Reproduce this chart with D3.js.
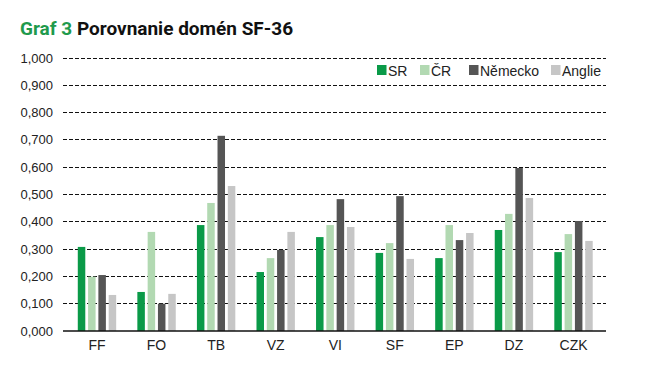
<!DOCTYPE html>
<html><head><meta charset="utf-8">
<script src="https://cdn.jsdelivr.net/npm/d3@7"></script>
<style>body{margin:0;background:#fff;} svg{display:block;}</style>
</head><body>
<svg id="c" width="647" height="366"></svg>
<script>
const categories = ["FF","FO","TB","VZ","VI","SF","EP","DZ","CZK"];
const seriesNames = ["SR","ČR","Německo","Anglie"];
const SR      = [0.308,0.143,0.388,0.216,0.344,0.286,0.267,0.370,0.289];
const CR      = [0.199,0.363,0.469,0.267,0.388,0.322,0.388,0.429,0.355];
const Nemecko = [0.205,0.100,0.715,0.297,0.483,0.494,0.333,0.597,0.403];
const Anglie  = [0.132,0.136,0.531,0.363,0.381,0.264,0.359,0.487,0.330];
const yTicks = [0,0.1,0.2,0.3,0.4,0.5,0.6,0.7,0.8,0.9,1.0];
const colors = ["#0a9a48","#b2d9b2","#555555","#c6c6c6"];

const series = [SR, CR, Nemecko, Anglie];
const svg = d3.select("#c");
const font = "'Liberation Sans', Arial, sans-serif";

// title
const t = svg.append("text").attr("x",20).attr("y",35)
  .style("font-family","Roboto, 'Liberation Sans', sans-serif").style("font-weight","bold").style("font-size","19px");
t.append("tspan").attr("fill","#1f9a4c").text("Graf 3 ");
t.append("tspan").attr("fill","#111").text("Porovnanie domén SF-36");

const x0 = d3.scaleBand().domain(categories).range([67.2,603.3]).paddingInner(0).paddingOuter(0);
const y = d3.scaleLinear().domain([0,1]).range([331,58]);

// gridlines
svg.append("g").selectAll("line").data(yTicks.filter(d=>d>0)).join("line")
  .attr("x1",63).attr("x2",606)
  .attr("y1",d=>y(d)).attr("y2",d=>y(d))
  .attr("stroke","#111").attr("stroke-width",1).attr("stroke-dasharray","3.5,2.5")
  .attr("shape-rendering","crispEdges");

// y axis labels
const fmt = d => d3.format(".3f")(d).replace(".",",");
svg.append("g").selectAll("text").data(yTicks).join("text")
  .attr("x",53).attr("y",d=>y(d)).attr("dy","0.35em").attr("text-anchor","end")
  .style("font-family",font).style("font-size","13px").attr("fill","#222")
  .text(fmt);

// bars
const step = 10.3, bw = 7.5;
categories.forEach((c,i)=>{
  const cx = x0(c) + x0.bandwidth()/2;
  series.forEach((s,j)=>{
    const left = cx - (step*3 + bw)/2 + j*step;
    svg.append("rect").attr("x",left).attr("width",bw)
      .attr("y",y(s[i])).attr("height",y(0)-y(s[i])).attr("fill",colors[j]);
  });
});

// baseline
svg.append("line").attr("x1",63).attr("x2",606).attr("y1",y(0)).attr("y2",y(0))
  .attr("stroke","#111").attr("stroke-width",1.5);

// x axis labels
svg.append("g").selectAll("text").data(categories).join("text")
  .attr("x",d=>x0(d)+x0.bandwidth()/2).attr("y",350).attr("text-anchor","middle")
  .style("font-family",font).style("font-size","14px").attr("fill","#222")
  .text(d=>d);

// legend
const legX = [377,420,469,551];
const lg = svg.append("g");
seriesNames.forEach((n,j)=>{
  lg.append("rect").attr("x",legX[j]).attr("y",65).attr("width",9.5).attr("height",10).attr("fill",colors[j]);
  lg.append("text").attr("x",legX[j]+11).attr("y",75.5)
    .style("font-family",font).style("font-size","14px").attr("fill","#222").text(n);
});
</script>
</body></html>
